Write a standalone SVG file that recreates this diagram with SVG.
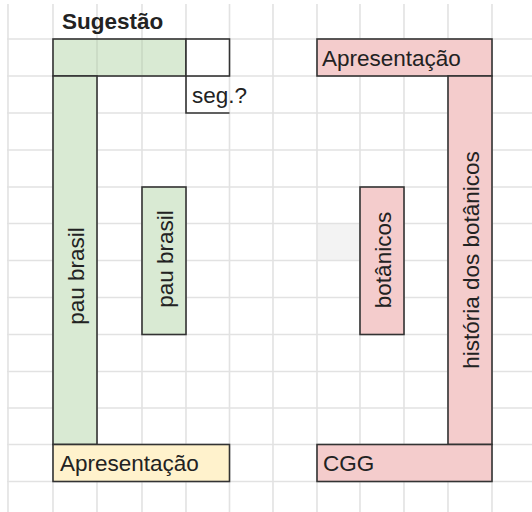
<svg xmlns="http://www.w3.org/2000/svg" width="532" height="512" viewBox="0 0 532 512">
<style>
.grid line{stroke:#e2e2e2;stroke-width:1.6}
.box{stroke:#333;stroke-width:1.6}
.green{fill:#d9ead3}
.pink{fill:#f4cccc}
.yellow{fill:#fff2cc}
.white{fill:#fff}
text{font-family:"Liberation Sans",Arial,sans-serif;font-size:22.5px;fill:#222}
.title{font-weight:bold}
</style>
<rect x="0" y="0" width="532" height="512" fill="#fff"/>
<rect x="317" y="223.5" width="43" height="37" fill="#f3f3f3"/>
<g class="grid">
<line x1="8" y1="4" x2="8" y2="512"/>
<line x1="53" y1="4" x2="53" y2="512"/>
<line x1="97" y1="4" x2="97" y2="512"/>
<line x1="142" y1="4" x2="142" y2="512"/>
<line x1="186" y1="4" x2="186" y2="512"/>
<line x1="229.5" y1="4" x2="229.5" y2="512"/>
<line x1="273" y1="4" x2="273" y2="512"/>
<line x1="317" y1="4" x2="317" y2="512"/>
<line x1="360" y1="4" x2="360" y2="512"/>
<line x1="404" y1="4" x2="404" y2="512"/>
<line x1="448" y1="4" x2="448" y2="512"/>
<line x1="492" y1="4" x2="492" y2="512"/>
<line x1="7" y1="39" x2="532" y2="39"/>
<line x1="7" y1="76" x2="532" y2="76"/>
<line x1="7" y1="113" x2="532" y2="113"/>
<line x1="7" y1="150" x2="532" y2="150"/>
<line x1="7" y1="187" x2="532" y2="187"/>
<line x1="7" y1="223.5" x2="532" y2="223.5"/>
<line x1="7" y1="260.5" x2="532" y2="260.5"/>
<line x1="7" y1="297.5" x2="532" y2="297.5"/>
<line x1="7" y1="334.5" x2="532" y2="334.5"/>
<line x1="7" y1="371.5" x2="532" y2="371.5"/>
<line x1="7" y1="408" x2="532" y2="408"/>
<line x1="7" y1="444.5" x2="532" y2="444.5"/>
<line x1="7" y1="481.5" x2="532" y2="481.5"/>
</g>
<g id="sugestao-title"><text class="title" x="62" y="29">Sugestão</text></g>
<g id="green-top">
<rect class="box green" x="53" y="39" width="133" height="37"/>
<line x1="97" y1="40" x2="97" y2="75" stroke="#c6d6c0" stroke-width="1.4"/>
<line x1="142" y1="40" x2="142" y2="75" stroke="#c6d6c0" stroke-width="1.4"/>
</g>
<g id="white-box"><rect class="box white" x="186" y="39" width="43.5" height="37"/></g>
<g id="seg">
<path d="M186 76 V113 H229.5" fill="none" stroke="#333" stroke-width="1.6"/>
<text x="192" y="103">seg.?</text>
</g>
<g id="green-long">
<rect class="box green" x="53" y="76" width="44" height="368.5"/>
<text transform="translate(83.5,276) rotate(-90)" text-anchor="middle">pau brasil</text>
</g>
<g id="green-short">
<rect class="box green" x="142" y="187" width="44" height="147.5"/>
<text transform="translate(172.5,259) rotate(-90)" text-anchor="middle">pau brasil</text>
</g>
<g id="yellow-bottom">
<rect class="box yellow" x="53" y="444.5" width="176.5" height="37"/>
<text x="60" y="471">Apresentação</text>
</g>
<g id="pink-top">
<rect class="box pink" x="317" y="39" width="175" height="37"/>
<text x="322" y="66">Apresentação</text>
</g>
<g id="pink-long">
<rect class="box pink" x="448" y="76" width="44" height="368.5"/>
<text transform="translate(478.5,260) rotate(-90)" text-anchor="middle">história dos botânicos</text>
</g>
<g id="pink-short">
<rect class="box pink" x="360" y="187" width="44" height="147.5"/>
<text transform="translate(390.5,260) rotate(-90)" text-anchor="middle">botânicos</text>
</g>
<g id="pink-bottom">
<rect class="box pink" x="317" y="444.5" width="175" height="37"/>
<text x="323" y="471">CGG</text>
</g>
<g id="connectors"></g>
</svg>
